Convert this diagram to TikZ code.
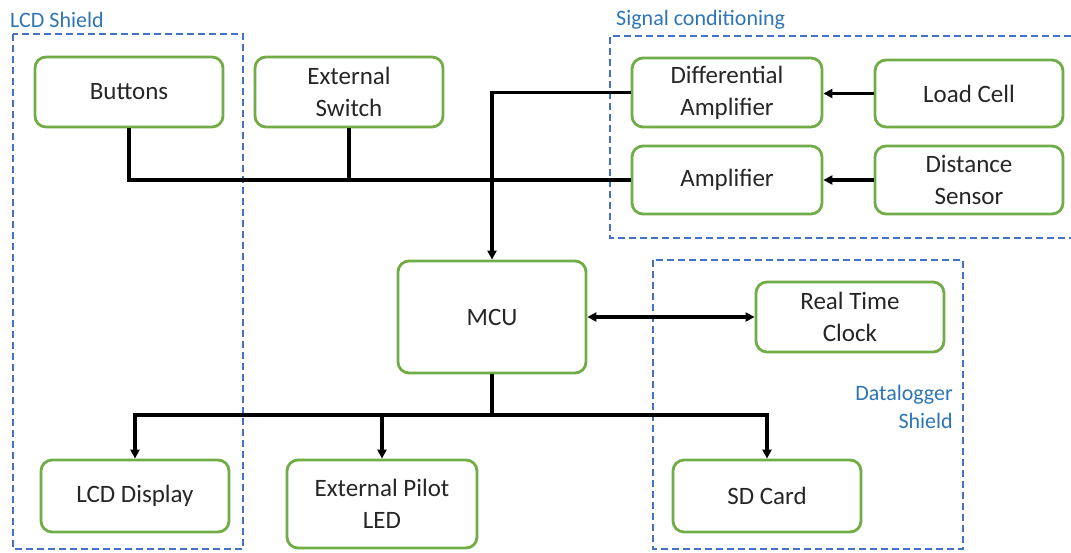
\documentclass[tikz,border=0pt]{standalone}
\usepackage{fontspec}
\setmainfont{Carlito}
\usetikzlibrary{arrows.meta}
\definecolor{boxgreen}{HTML}{70AD47}
\definecolor{grpblue}{HTML}{4472C4}
\definecolor{lblblue}{HTML}{2E75B6}
\begin{document}
\begin{tikzpicture}[x=1pt,y=-1pt,
  blk/.style={draw=boxgreen,line width=2.8pt,rounded corners=11pt,fill=white,
    align=center,font=\fontsize{25}{32}\selectfont,text=black!85,inner sep=2pt},
  grp/.style={draw=grpblue,line width=2.5pt,dash pattern=on 7pt off 4pt},
  grplbl/.style={text=lblblue,font=\fontsize{22}{28}\selectfont,inner sep=0pt},
  wire/.style={line width=3.2pt,black},
  arr/.style={wire,-{Triangle[length=9pt,width=9pt]}},
  darr/.style={wire,{Triangle[length=9pt,width=9pt]}-{Triangle[length=9pt,width=9pt]}}]
\useasboundingbox (0,0) rectangle (1071,552);
% groups
\draw[grp] (13,34) rectangle (243,549);
\draw[grp] (1071,36) -- (610,36) -- (610,238) -- (1071,238);
\draw[grp] (653,260) rectangle (963,549);
\node[grplbl,anchor=west] (lcdshield) at (10,20) {LCD Shield};
\node[grplbl,anchor=west] (sigcond) at (616,20) {Signal conditioning};
\node[grplbl,anchor=east,align=right] (dlshield) at (953,407) {Datalogger\\Shield};
% blocks
\node[blk,minimum width=188pt,minimum height=70pt] (buttons) at (129,92) {Buttons};
\node[blk,minimum width=188pt,minimum height=70pt] (extsw) at (349,92) {External\\Switch};
\node[blk,minimum width=190pt,minimum height=69pt] (diffamp) at (727,92.5) {Differential\\Amplifier};
\node[blk,minimum width=188pt,minimum height=67pt] (loadcell) at (969,93.5) {Load Cell};
\node[blk,minimum width=190pt,minimum height=68pt] (amp) at (727,180) {Amplifier};
\node[blk,minimum width=188pt,minimum height=68pt] (dist) at (969,180) {Distance\\Sensor};
\node[blk,minimum width=188pt,minimum height=112pt] (mcu) at (492,317) {MCU};
\node[blk,minimum width=188pt,minimum height=70pt] (rtc) at (850,317) {Real Time\\Clock};
\node[blk,minimum width=188pt,minimum height=72pt] (lcd) at (135,496) {LCD Display};
\node[blk,minimum width=190pt,minimum height=88pt] (pilot) at (382,504) {External Pilot\\LED};
\node[blk,minimum width=188pt,minimum height=72pt] (sd) at (767,496) {SD Card};
% connectors
\coordinate (bus) at (492,415);
\draw[wire] (buttons.south) |- (amp.west);
\draw[wire] (extsw.south) -- (extsw.south |- amp.west);
\draw[arr] (diffamp.west) -| (mcu.north);
\draw[arr] (loadcell.west) -- (diffamp.east |- loadcell.west);
\draw[arr] (dist.west) -- (amp.east);
\draw[darr] (mcu.east) -- (rtc.west);
\draw[wire] (mcu.south) -- (bus);
\draw[arr] (bus) -| (lcd.north);
\draw[arr] (bus) -| (sd.north);
\draw[arr] (pilot.north |- bus) -- (pilot.north);
\end{tikzpicture}
\end{document}
